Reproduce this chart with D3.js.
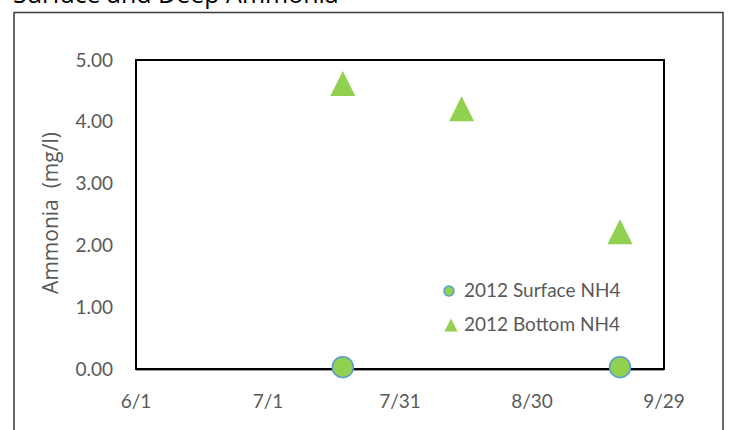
<!DOCTYPE html>
<html lang="en">
<head>
    <meta charset="UTF-8">
    <title>Surface and Deep Ammonia</title>
    <style>
        body, html {
          margin: 0;
          width: 100%;
          height: 100%;
          background: #fff;
        }
        svg {
          display: block;
        }
        .tick-label {
            font-family: Lato, "Open Sans", sans-serif;
            font-size: 19px;
            fill: #595959;
        }
        .legend text {
            font-family: Lato, "Open Sans", sans-serif;
            font-size: 19px;
            fill: #595959;
        }
    </style>
</head>
<body>
    <svg width="732" height="430"></svg>

    <script src="https://d3js.org/d3.v7.min.js"></script>
    <script>
        // data
        const surfaceDates = ["2012-07-18", "2012-09-19"];
        const surfaceValues = [0.03, 0.03];
        const bottomDates = ["2012-07-18", "2012-08-14", "2012-09-19"];
        const bottomValues = [4.62, 4.21, 2.22];
        const xTicks = ["2012-06-01", "2012-07-01", "2012-07-31", "2012-08-30", "2012-09-29"];
        const yTicks = [0, 1, 2, 3, 4, 5];

        const parse = d3.timeParse("%Y-%m-%d");
        const green = "#92D050", blue = "#5B9BD5";

        const svg = d3.select("svg");
        const plot = { left: 136, right: 664, top: 60, bottom: 369 };

        const x = d3.scaleTime()
            .domain([parse(xTicks[0]), parse(xTicks[xTicks.length - 1])])
            .range([plot.left, plot.right]);
        const y = d3.scaleLinear()
            .domain([0, 5])
            .range([plot.bottom, plot.top]);

        // chart frame (runs off the bottom of the picture)
        svg.append("rect")
            .attr("x", 14).attr("y", 12.5)
            .attr("width", 709).attr("height", 440)
            .attr("fill", "none").attr("stroke", "#3a3a3a").attr("stroke-width", 1.5);

        // title, mostly cut off at the top
        svg.append("text")
            .attr("x", 13).attr("y", 3)
            .attr("font-family", "'Open Sans', sans-serif")
            .attr("font-size", 25)
            .attr("fill", "#000")
            .text("Surface and Deep Ammonia");

        // plot area border
        svg.append("rect")
            .attr("x", plot.left).attr("y", plot.top)
            .attr("width", plot.right - plot.left).attr("height", plot.bottom - plot.top)
            .attr("fill", "none").attr("stroke", "#000").attr("stroke-width", 2);

        // x axis line
        svg.append("line")
            .attr("x1", plot.left).attr("x2", plot.right)
            .attr("y1", plot.bottom + 1.5).attr("y2", plot.bottom + 1.5)
            .attr("stroke", "#9a9a9a").attr("stroke-width", 1);

        const fmt = d3.timeFormat("%-m/%-d");
        svg.append("g").selectAll("text")
            .data(xTicks)
            .join("text")
            .attr("class", "tick-label")
            .attr("x", d => x(parse(d)))
            .attr("y", 408)
            .attr("text-anchor", "middle")
            .text(d => fmt(parse(d)));

        svg.append("g").selectAll("text")
            .data(yTicks)
            .join("text")
            .attr("class", "tick-label")
            .attr("x", 113)
            .attr("y", d => y(d))
            .attr("dy", "0.35em")
            .attr("text-anchor", "end")
            .text(d => d.toFixed(2));

        svg.append("text")
            .attr("transform", "translate(58,213) rotate(-90)")
            .attr("text-anchor", "middle")
            .attr("font-family", "'Open Sans', sans-serif")
            .attr("font-size", 21)
            .attr("fill", "#595959")
            .style("white-space", "pre")
            .text("Ammonia  (mg/l)");

        function tri(cx, cy, h) {
            return `M${cx},${cy - h}L${cx + h},${cy + h}L${cx - h},${cy + h}Z`;
        }

        // bottom NH4 triangles
        svg.append("g").selectAll("path")
            .data(d3.zip(bottomDates, bottomValues))
            .join("path")
            .attr("d", d => tri(x(parse(d[0])), y(d[1]), 12.5))
            .attr("fill", green);

        // surface NH4 circles
        svg.append("g").selectAll("circle")
            .data(d3.zip(surfaceDates, surfaceValues))
            .join("circle")
            .attr("cx", d => x(parse(d[0])))
            .attr("cy", d => y(d[1]))
            .attr("r", 10.5)
            .attr("fill", green)
            .attr("stroke", blue)
            .attr("stroke-width", 1.5);

        // legend
        const legend = svg.append("g").attr("class", "legend");
        legend.append("circle")
            .attr("cx", 449).attr("cy", 291).attr("r", 5)
            .attr("fill", green).attr("stroke", blue).attr("stroke-width", 1.5);
        legend.append("text").attr("x", 464).attr("y", 297).text("2012 Surface NH4");
        legend.append("path")
            .attr("d", tri(451, 325, 6.5))
            .attr("fill", green);
        legend.append("text").attr("x", 464).attr("y", 331).text("2012 Bottom NH4");
    </script>
</body>
</html>
